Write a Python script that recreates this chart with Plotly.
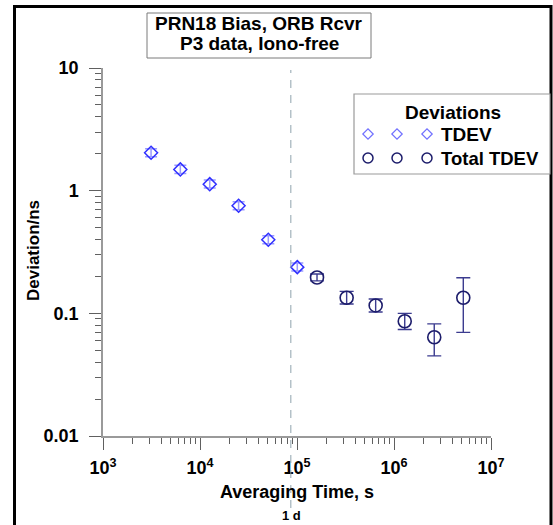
import plotly.graph_objects as go

# ---- data ----
tau_tdev = [3130, 6270, 12600, 25000, 50600, 100700]
tdev = [2.04, 1.49, 1.13, 0.754, 0.398, 0.238]
tdev_err_hi = [0.16, 0.12, 0.09, 0.06, 0.031, 0.019]
tdev_err_lo = [0.15, 0.11, 0.08, 0.055, 0.029, 0.017]

tau_tot = [160800, 325000, 647000, 1290000, 2600000, 5180000]
tot_tdev = [0.196, 0.134, 0.116, 0.0862, 0.0638, 0.134]
tot_err_hi = [0.013, 0.017, 0.015, 0.0138, 0.0182, 0.061]
tot_err_lo = [0.012, 0.015, 0.0135, 0.0124, 0.0188, 0.064]

x_tickvals = [1e3, 1e4, 1e5, 1e6, 1e7]
x_ticktext = ["10<sup>3</sup>", "10<sup>4</sup>", "10<sup>5</sup>", "10<sup>6</sup>", "10<sup>7</sup>"]
y_tickvals = [0.01, 0.1, 1, 10]
y_ticktext = ["0.01", "0.1", "1", "10"]
one_day = 86400

FONT = "Liberation Sans, Arial, sans-serif"
W, H = 553, 525
L, R, T, B = 103, 62, 68, 89
PW, PH = W - L - R, H - T - B


def px(x):
    return (x - L) / PW


def py(y):
    return (H - B - y) / PH


fig = go.Figure()

fig.add_trace(go.Scatter(
    x=tau_tdev, y=tdev, mode="markers", name="TDEV",
    marker=dict(symbol="diamond-open", size=10, color="#3030ff", line=dict(width=1.5)),
    error_y=dict(type="data", symmetric=False, array=tdev_err_hi, arrayminus=tdev_err_lo,
                 color="#9a9aff", thickness=1.5, width=6),
    showlegend=False,
))
fig.add_trace(go.Scatter(
    x=tau_tot, y=tot_tdev, mode="markers", name="Total TDEV",
    marker=dict(symbol="circle-open", size=13, color="#1c1c6b", line=dict(width=1.6)),
    error_y=dict(type="data", symmetric=False, array=tot_err_hi, arrayminus=tot_err_lo,
                 color="#3b3b8f", thickness=1.4, width=7),
    showlegend=False,
))

# custom legend markers (overlay axes in reference pixel units)
leg_x = [368, 397, 427]
fig.add_trace(go.Scatter(
    x=leg_x, y=[134] * 3, xaxis="x2", yaxis="y2", mode="markers",
    marker=dict(symbol="diamond-open", size=8, color="#7070ff", line=dict(width=1.2)),
    showlegend=False, hoverinfo="skip",
))
fig.add_trace(go.Scatter(
    x=leg_x, y=[158] * 3, xaxis="x2", yaxis="y2", mode="markers",
    marker=dict(symbol="circle-open", size=10, color="#1c1c6b", line=dict(width=1.5)),
    showlegend=False, hoverinfo="skip",
))

axis_common = dict(
    type="log", showgrid=False, zeroline=False, showline=True,
    linecolor="#9a9a9a", linewidth=1.5, ticks="outside", ticklen=12,
    tickcolor="#606060", tickwidth=1.2, mirror=False,
    tickfont=dict(family=FONT, size=18, color="black", weight="bold"),
    minor=dict(ticks="outside", ticklen=6, tickcolor="#606060", tickwidth=1, dtick="D1"),
)

fig.update_layout(
    width=W, height=H,
    margin=dict(l=L, r=R, t=T, b=B, pad=0),
    paper_bgcolor="white", plot_bgcolor="white",
    xaxis=dict(range=[3, 7], tickvals=x_tickvals, ticktext=x_ticktext,
               ticklabelstandoff=3, **axis_common),
    yaxis=dict(range=[-2, 1], tickvals=y_tickvals, ticktext=y_ticktext,
               ticklabelstandoff=7, **axis_common),
    xaxis2=dict(overlaying="x", range=[L, L + PW], visible=False, anchor="y2"),
    yaxis2=dict(overlaying="y", range=[H - B, T], visible=False, anchor="x2"),
    showlegend=False,
)

shapes = []
# outer black frame (open at bottom, extends past image)
shapes.append(dict(type="rect", xref="paper", yref="paper",
                   x0=px(14.5), x1=px(551), y0=py(560), y1=py(6.5),
                   line=dict(color="black", width=3), layer="below"))
# title box
shapes.append(dict(type="rect", xref="paper", yref="paper",
                   x0=px(147), x1=px(371), y0=py(58), y1=py(13),
                   line=dict(color="#7a7a7a", width=1)))
# legend box
shapes.append(dict(type="rect", xref="paper", yref="paper",
                   x0=px(354), x1=px(550), y0=py(174), y1=py(94),
                   line=dict(color="#9a9a9a", width=1.2), fillcolor="white", layer="below"))
# 1 day marker line
shapes.append(dict(type="line", xref="x", yref="paper",
                   x0=one_day, x1=one_day, y0=py(508), y1=py(70),
                   line=dict(color="#8fa3ad", width=1, dash="8px,7px")))
fig.update_layout(shapes=shapes)

ann = []
ann.append(dict(text="PRN18 Bias, ORB Rcvr", xref="paper", yref="paper",
                x=px(259), y=py(23), showarrow=False, xanchor="center", yanchor="middle",
                font=dict(family=FONT, size=19, color="black", weight="bold")))
ann.append(dict(text="P3 data, Iono-free", xref="paper", yref="paper",
                x=px(259), y=py(44), showarrow=False, xanchor="center", yanchor="middle",
                font=dict(family=FONT, size=19, color="black", weight="bold")))
ann.append(dict(text="Deviations", xref="paper", yref="paper",
                x=px(453), y=py(112), showarrow=False, xanchor="center", yanchor="middle",
                font=dict(family=FONT, size=19, color="black", weight="bold")))
ann.append(dict(text="TDEV", xref="paper", yref="paper",
                x=px(439), y=py(134), showarrow=False, xanchor="left", yanchor="middle",
                font=dict(family=FONT, size=19, color="black", weight="bold")))
ann.append(dict(text="Total TDEV", xref="paper", yref="paper",
                x=px(439), y=py(158), showarrow=False, xanchor="left", yanchor="middle",
                font=dict(family=FONT, size=18.5, color="black", weight="bold")))
ann.append(dict(text="Averaging Time, s", xref="paper", yref="paper",
                x=px(297), y=py(492), showarrow=False, xanchor="center", yanchor="middle",
                font=dict(family=FONT, size=18, color="black", weight="bold")))
ann.append(dict(text="Deviation/ns", xref="paper", yref="paper",
                x=px(33), y=py(251), showarrow=False, xanchor="center", yanchor="middle",
                textangle=-90,
                font=dict(family=FONT, size=17, color="black", weight="bold")))
ann.append(dict(text="1 d", xref="x", yref="paper",
                x=3 + (291 - L) / PW * 4, y=py(515), showarrow=False,
                xanchor="center", yanchor="middle",
                font=dict(family=FONT, size=13, color="black", weight="bold")))
fig.update_layout(annotations=ann)

fig.write_html(
    "out.html",
    config={"displayModeBar": False},
    post_script="document.body.style.margin='0';document.body.style.overflow='hidden';",
)
